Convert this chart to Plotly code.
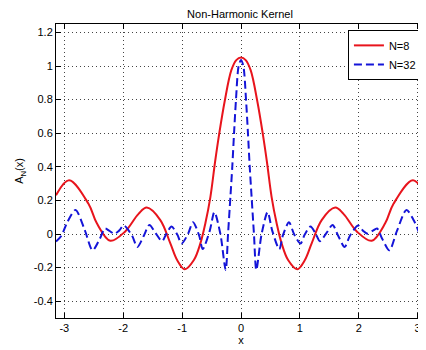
import plotly.graph_objects as go

# ---- data ----
x_n8 = [-3.1416, -2.92, -2.59, -2.45, -2.22, -1.97, -1.74, -1.60, -1.37, -1.20,
        -1.085, -0.955, -0.80, -0.69, -0.605, -0.52, -0.44, -0.373, -0.277, -0.164, -0.08,
        0.0,
        0.08, 0.164, 0.277, 0.373, 0.44, 0.52, 0.605, 0.69, 0.80, 0.955, 1.085,
        1.20, 1.37, 1.60, 1.74, 1.97, 2.22, 2.45, 2.59, 2.92, 3.1416]
y_n8 = [0.23, 0.32, 0.18, 0.065, -0.04, 0.014, 0.12, 0.157, 0.083, -0.056,
        -0.155, -0.21, -0.155, -0.056, 0.064, 0.22, 0.43, 0.59, 0.79, 0.975, 1.035,
        1.05,
        1.035, 0.975, 0.79, 0.59, 0.43, 0.22, 0.064, -0.056, -0.155, -0.21, -0.155,
        -0.056, 0.083, 0.157, 0.12, 0.014, -0.04, 0.065, 0.18, 0.32, 0.23]

x_n32 = [-3.1416, -3.05, -2.95, -2.81, -2.65, -2.52, -2.40, -2.31, -2.24, -2.15,
         -2.07, -1.99, -1.85, -1.76, -1.65, -1.555, -1.45, -1.34, -1.27, -1.18,
         -1.08, -1.01, -0.90, -0.815, -0.71, -0.65, -0.53, -0.452, -0.35, -0.26,
         -0.22, -0.18, -0.148, -0.118, -0.085, -0.04, 0.0,
         0.04, 0.085, 0.118, 0.148, 0.18, 0.22, 0.26, 0.35, 0.452, 0.53,
         0.65, 0.71, 0.815, 0.90, 1.01, 1.08, 1.18, 1.27, 1.34, 1.45,
         1.555, 1.65, 1.76, 1.85, 1.99, 2.07, 2.15, 2.24, 2.31, 2.40,
         2.52, 2.65, 2.81, 2.95, 3.05, 3.1416]
y_n32 = [-0.045, -0.01, 0.07, 0.143, 0.02, -0.097, -0.03, 0.033, 0.02, 0.002,
         0.02, 0.05, -0.01, -0.077, -0.01, 0.054, 0.005, -0.043, 0.0, 0.044,
         -0.005, -0.057, 0.0, 0.07, -0.01, -0.09, 0.02, 0.13, 0.0, -0.214,
         0.0, 0.22, 0.40, 0.60, 0.80, 1.0, 1.035,
         1.0, 0.80, 0.60, 0.40, 0.22, 0.0, -0.214, 0.0, 0.13, 0.02,
         -0.09, -0.01, 0.07, 0.0, -0.057, -0.005, 0.044, 0.0, -0.043, 0.005,
         0.054, -0.01, -0.077, -0.01, 0.05, 0.02, 0.002, 0.02, 0.033, -0.03,
         -0.097, 0.02, 0.143, 0.07, -0.01, -0.045]

x_ticks = [-3, -2, -1, 0, 1, 2, 3]
x_tick_labels = ["-3", "-2", "-1", "0", "1", "2", "3"]
y_ticks = [-0.4, -0.2, 0, 0.2, 0.4, 0.6, 0.8, 1.0, 1.2]
y_tick_labels = ["-0.4", "-0.2", "0", "0.2", "0.4", "0.6", "0.8", "1", "1.2"]

FONT = "Liberation Sans, Arial, sans-serif"

fig = go.Figure()
fig.add_trace(go.Scatter(x=x_n8, y=y_n8, mode="lines", name="N=8",
                         line=dict(color="#e8141c", width=2, shape="spline", smoothing=1.0)))
fig.add_trace(go.Scatter(x=x_n32, y=y_n32, mode="lines", name="N=32",
                         line=dict(color="#1414d8", width=2, dash="8px,4px",
                                   shape="spline", smoothing=0.8)))

axis_common = dict(
    showline=True, linecolor="black", linewidth=1, mirror="ticks",
    ticks="inside", ticklen=5, tickcolor="black",
    showgrid=True, gridcolor="#444", griddash="1px,3px", gridwidth=1,
    zeroline=False, tickfont=dict(family=FONT, size=11, color="black"),
)

fig.update_xaxes(range=[-3.1416, 3.1416], tickvals=x_ticks, ticktext=x_tick_labels,
                 title=dict(text="x", font=dict(family=FONT, size=11, color="black"), standoff=2),
                 **axis_common)
fig.update_yaxes(range=[-0.5, 1.25], tickvals=y_ticks, ticktext=y_tick_labels,
                 title=dict(text="A<sub>N</sub>(x)", font=dict(family=FONT, size=11, color="black"),
                            standoff=7),
                 **axis_common)

# The page body has an 8px margin, so the figure is sized/offset to compensate.
fig.update_layout(
    width=418, height=342,
    margin=dict(l=48, r=0, t=16, b=32),
    paper_bgcolor="white", plot_bgcolor="white",
    title=dict(text="Non-Harmonic Kernel", x=0.555, xanchor="center", y=0.982, yanchor="middle",
               font=dict(family=FONT, size=11, color="black")),
    legend=dict(x=0.989, y=0.98, xanchor="right", yanchor="top",
                bgcolor="white", bordercolor="black", borderwidth=1,
                font=dict(family=FONT, size=11, color="black"),
                tracegroupgap=0),
    showlegend=True,
)

fig.write_html("out.html")
